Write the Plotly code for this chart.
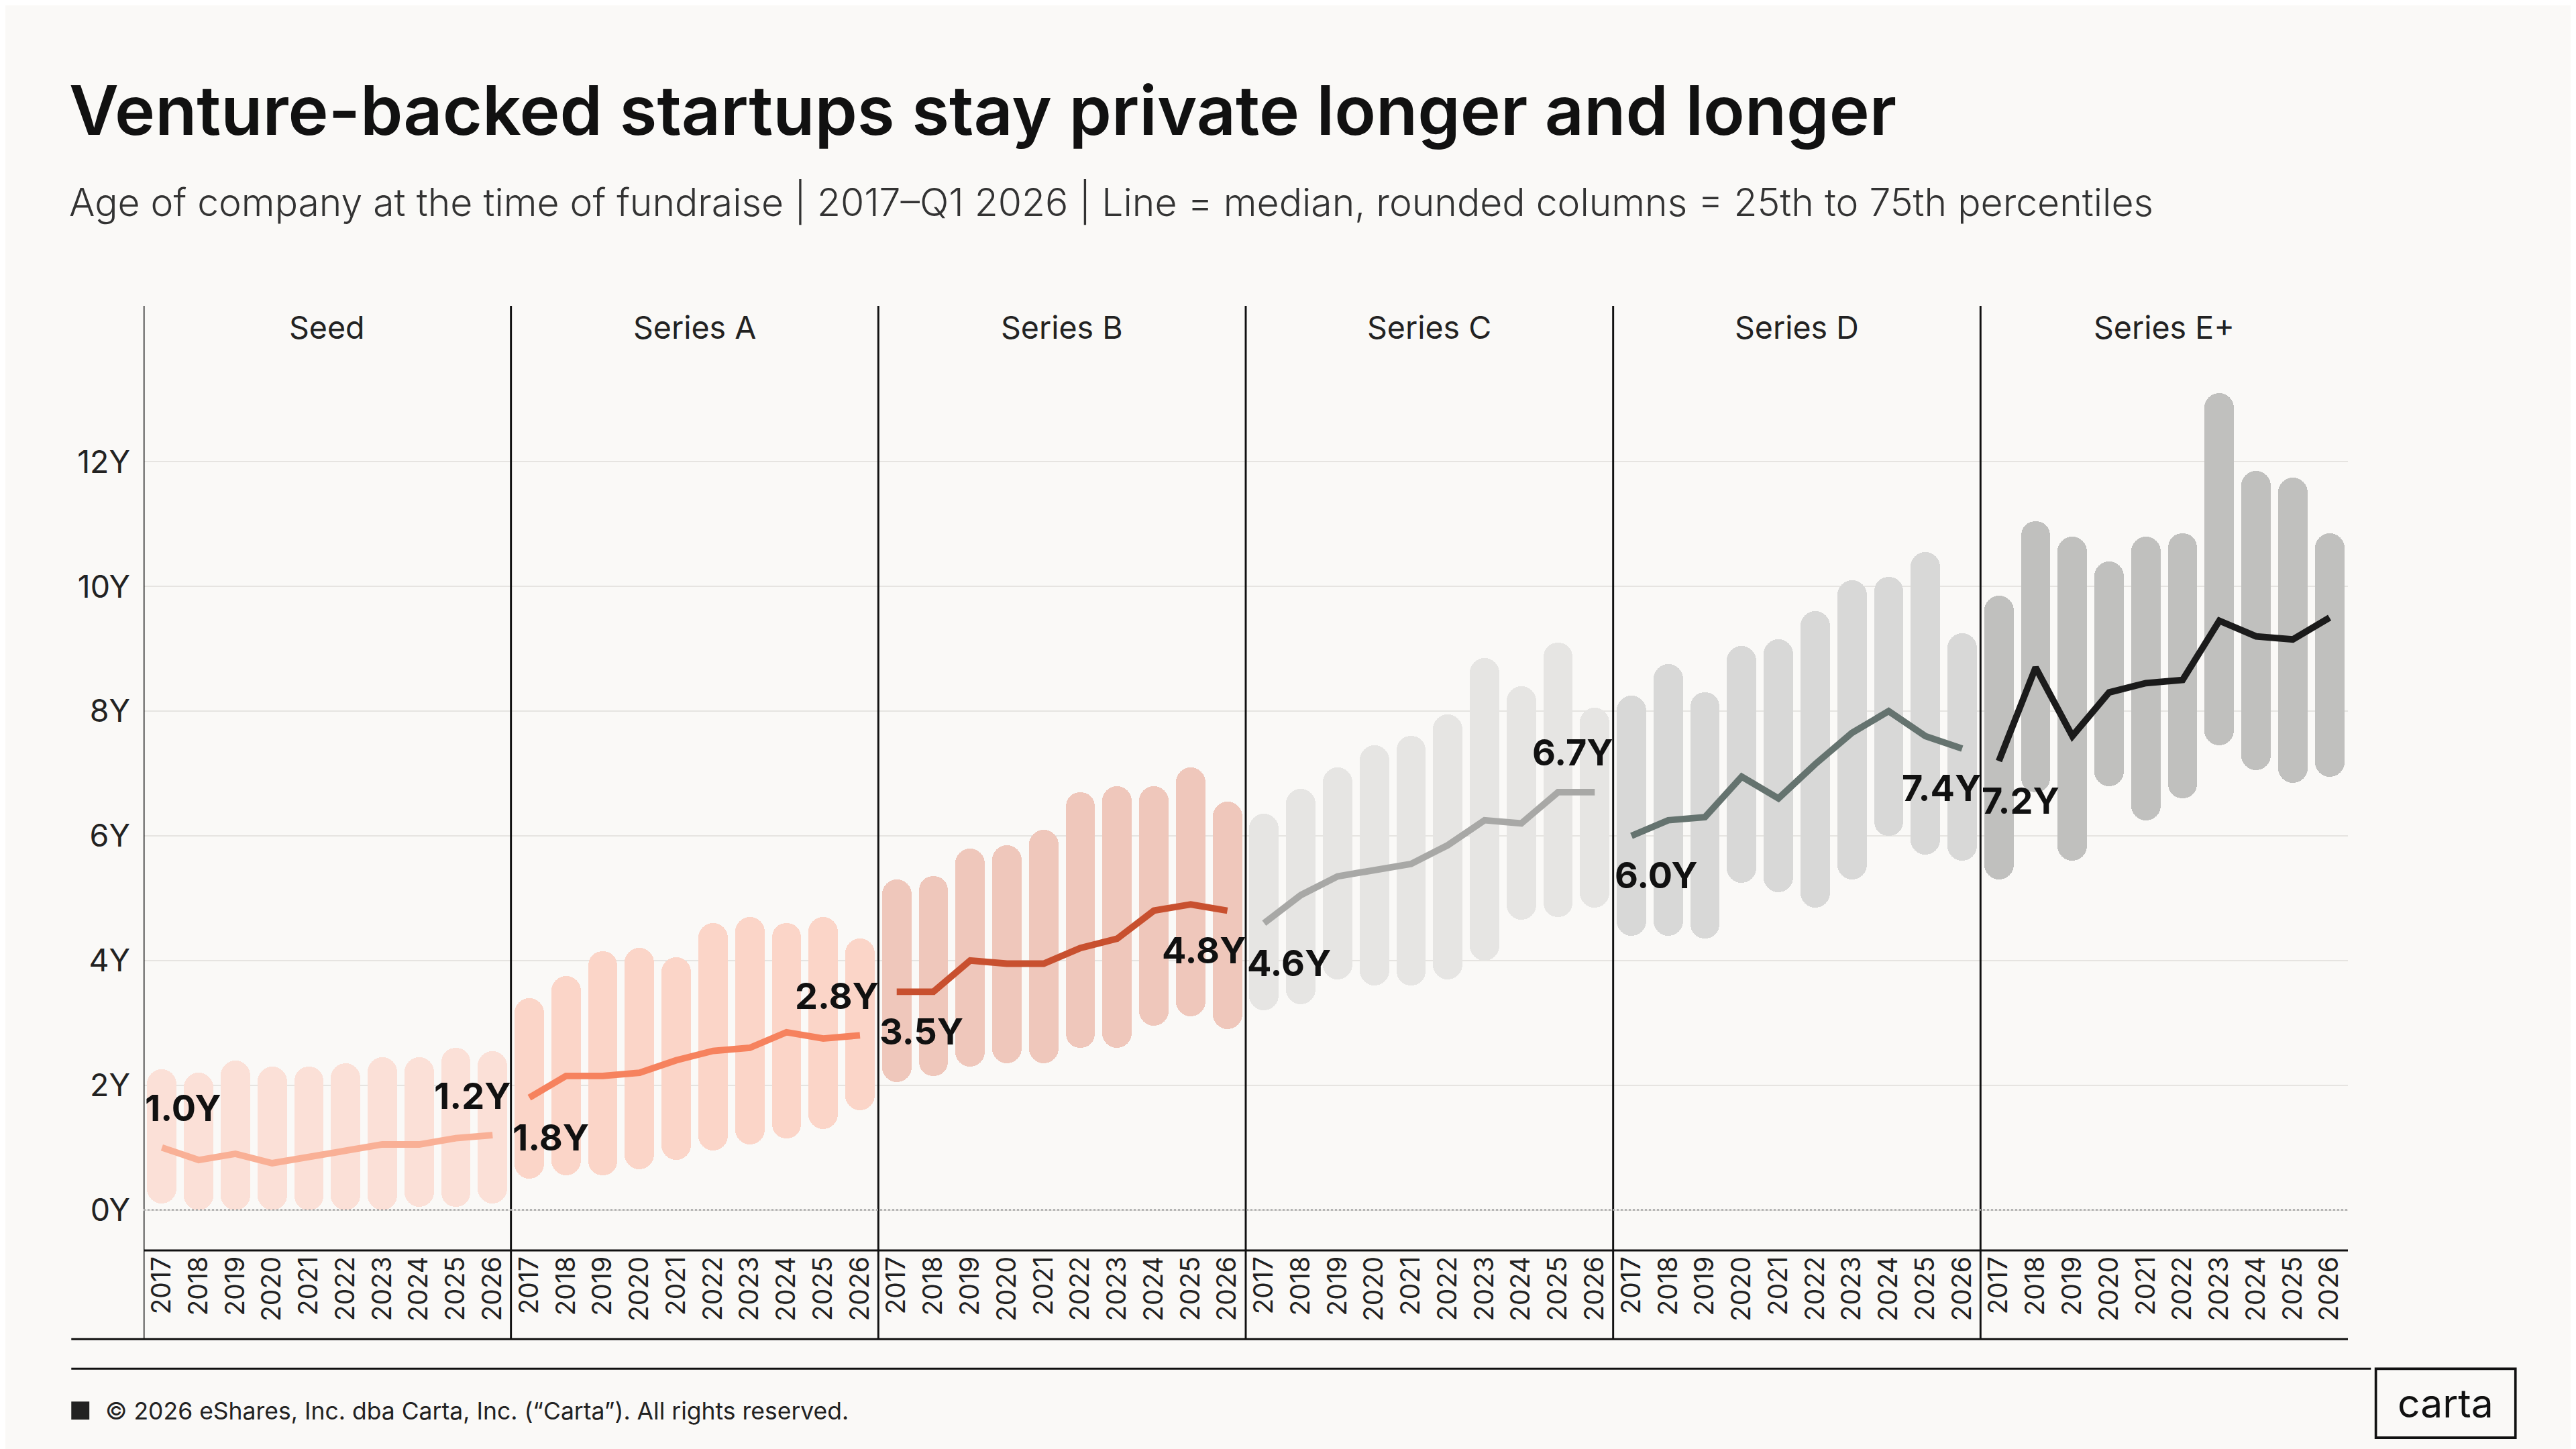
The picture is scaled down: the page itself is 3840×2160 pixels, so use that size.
import plotly.graph_objects as go

S = 3840 / 1568
stages = ["Seed", "Series A", "Series B", "Series C", "Series D", "Series E+"]
years = [str(y) for y in range(2017, 2027)]

seed_low = [0.1, 0, 0, 0, 0, 0, 0, 0.05, 0.05, 0.1]
seed_high = [2.25, 2.2, 2.4, 2.3, 2.3, 2.35, 2.45, 2.45, 2.6, 2.55]
seed_med = [1.0, 0.8, 0.9, 0.75, 0.85, 0.95, 1.05, 1.05, 1.15, 1.2]
a_low = [0.5, 0.55, 0.55, 0.65, 0.8, 0.95, 1.05, 1.15, 1.3, 1.6]
a_high = [3.4, 3.75, 4.15, 4.2, 4.05, 4.6, 4.7, 4.6, 4.7, 4.35]
a_med = [1.8, 2.15, 2.15, 2.2, 2.4, 2.55, 2.6, 2.85, 2.75, 2.8]
b_low = [2.05, 2.15, 2.3, 2.35, 2.35, 2.6, 2.6, 2.95, 3.1, 2.9]
b_high = [5.3, 5.35, 5.8, 5.85, 6.1, 6.7, 6.8, 6.8, 7.1, 6.55]
b_med = [3.5, 3.5, 4.0, 3.95, 3.95, 4.2, 4.35, 4.8, 4.9, 4.8]
c_low = [3.2, 3.3, 3.7, 3.6, 3.6, 3.7, 4.0, 4.65, 4.7, 4.85]
c_high = [6.35, 6.75, 7.1, 7.45, 7.6, 7.95, 8.85, 8.4, 9.1, 8.05]
c_med = [4.6, 5.05, 5.35, 5.45, 5.55, 5.85, 6.25, 6.2, 6.7, 6.7]
d_low = [4.4, 4.4, 4.35, 5.25, 5.1, 4.85, 5.3, 6.0, 5.7, 5.6]
d_high = [8.25, 8.75, 8.3, 9.05, 9.15, 9.6, 10.1, 10.15, 10.55, 9.25]
d_med = [6.0, 6.25, 6.3, 6.95, 6.6, 7.15, 7.65, 8.0, 7.6, 7.4]
e_low = [5.3, 6.7, 5.6, 6.8, 6.25, 6.6, 7.45, 7.05, 6.85, 6.95]
e_high = [9.85, 11.05, 10.8, 10.4, 10.8, 10.85, 13.1, 11.85, 11.75, 10.85]
e_med = [7.2, 8.7, 7.6, 8.3, 8.45, 8.5, 9.45, 9.2, 9.15, 9.5]

lows = [seed_low, a_low, b_low, c_low, d_low, e_low]
highs = [seed_high, a_high, b_high, c_high, d_high, e_high]
meds = [seed_med, a_med, b_med, c_med, d_med, e_med]
bar_colors = ["#fbe0d7", "#fbd5c8", "#efc7bb", "#e6e5e3", "#d8d8d7", "#c0c0be"]
line_colors = ["#f9b096", "#f6825e", "#c8502f", "#a8a8a6", "#65736f", "#1b1b1b"]
first_pos = ["above", "below", "below", "below", "below", "below"]
last_pos = ["above", "above", "below", "above", "below", "above"]

FONT = "Inter"
fig = go.Figure()
ann = []
for i in range(6):
    xs = [i * 10 + j for j in range(10)]
    mids = [(l + h) / 2 for l, h in zip(lows[i], highs[i])]
    halfs = [(h - l) / 2 for l, h in zip(lows[i], highs[i])]
    fig.add_trace(go.Bar(x=xs, base=mids, y=halfs,
                         marker=dict(color=bar_colors[i], cornerradius="50%", line_width=0),
                         width=0.8, hoverinfo="skip", showlegend=False))
    fig.add_trace(go.Bar(x=xs, base=mids, y=[-v for v in halfs],
                         marker=dict(color=bar_colors[i], cornerradius="50%", line_width=0),
                         width=0.8, hoverinfo="skip", showlegend=False))
    fig.add_trace(go.Bar(x=xs, base=[m - v / 2 for m, v in zip(mids, halfs)], y=halfs,
                         marker=dict(color=bar_colors[i], line_width=0),
                         width=0.8, hoverinfo="skip", showlegend=False))
    fig.add_trace(go.Scatter(x=xs, y=meds[i], mode="lines",
                             line=dict(color=line_colors[i], width=4 * S),
                             hoverinfo="skip", showlegend=False))
    for idx, pos, xa in [(0, first_pos[i], "left"), (9, last_pos[i], "right")]:
        ann.append(dict(x=xs[idx] + (-0.5 if idx == 0 else 0.55), y=meds[i][idx],
                        text="%.1fY" % meds[i][idx], showarrow=False,
                        xanchor=xa, yanchor="bottom" if pos == "above" else "top",
                        yshift=(10 if pos == "above" else -10) * S,
                        font=dict(family=FONT, size=22 * S, color="#111", weight=700)))

def px(xx):
    return (xx - 84) / 1342

def py(yy):
    return (758 - yy) / 575

for i in range(6):
    ann.append(dict(x=i * 10 + 4.5, y=py(196), yref="paper", yanchor="middle", text=stages[i],
                    showarrow=False, font=dict(family=FONT, size=19 * S, color="#222")))

shapes = []
for k in range(6):
    shapes.append(dict(type="line", xref="x", yref="paper", x0=k * 10 - 0.5, x1=k * 10 - 0.5,
                       y0=py(812), y1=py(183), line=dict(color="#111", width=1.2 * S)))
shapes.append(dict(type="line", xref="paper", yref="y", x0=0, x1=1, y0=0, y1=0,
                   line=dict(color="#aaa", width=1 * S, dash="dot")))
shapes.append(dict(type="line", xref="paper", yref="paper", x0=px(84), x1=px(1426), y0=py(758), y1=py(758),
                   line=dict(color="#111", width=1.2 * S)))
shapes.append(dict(type="line", xref="paper", yref="paper", x0=px(40), x1=px(1426), y0=py(812), y1=py(812),
                   line=dict(color="#111", width=1.2 * S)))
shapes.append(dict(type="line", xref="paper", yref="paper", x0=px(40), x1=px(1440), y0=py(830), y1=py(830),
                   line=dict(color="#111", width=1.2 * S)))
shapes.append(dict(type="rect", xref="paper", yref="paper", x0=px(1443), x1=px(1528), y0=py(872), y1=py(830),
                   line=dict(color="#111", width=1.5 * S), fillcolor="rgba(0,0,0,0)"))
shapes.append(dict(type="rect", xref="paper", yref="paper", x0=px(40), x1=px(51), y0=py(861), y1=py(850),
                   line=dict(width=0), fillcolor="#222"))

ann += [
    dict(x=px(38), y=py(64), xref="paper", yref="paper", text="Venture-backed startups stay private longer and longer",
         showarrow=False, xanchor="left", yanchor="middle", font=dict(family=FONT, size=41.5 * S, color="#111", weight=600)),
    dict(x=px(38), y=py(120), xref="paper", yref="paper",
         text="Age of company at the time of fundraise | 2017–Q1 2026 | Line = median, rounded columns = 25th to 75th percentiles",
         showarrow=False, xanchor="left", yanchor="middle", font=dict(family=FONT, size=23.3 * S, color="#333", weight=300)),
    dict(x=px(60), y=py(856), xref="paper", yref="paper",
         text="© 2026 eShares, Inc. dba Carta, Inc. (“Carta”). All rights reserved.",
         showarrow=False, xanchor="left", yanchor="middle", font=dict(family=FONT, size=14.5 * S, color="#222")),
    dict(x=px(1485.5), y=py(851), xref="paper", yref="paper", text="carta",
         showarrow=False, xanchor="center", yanchor="middle", font=dict(family=FONT, size=24 * S, color="#111")),
]

xticks = list(range(60))
fig.update_layout(
    width=3840, height=2160, paper_bgcolor="#faf9f7", plot_bgcolor="#faf9f7",
    margin=dict(l=84 * S, r=(1568 - 1426) * S, t=183 * S, b=(882 - 758) * S),
    barmode="overlay", bargap=0, shapes=shapes, annotations=ann,
    xaxis=dict(range=[-0.5, 59.5], tickvals=xticks, ticktext=years * 6, tickangle=-90,
               tickfont=dict(family=FONT, size=16 * S, color="#222"), showgrid=False,
               zeroline=False, ticks="", ticklen=0),
    yaxis=dict(range=[-0.65, 14.5], tickvals=[0, 2, 4, 6, 8, 10, 12],
               ticktext=["0Y", "2Y", "4Y", "6Y", "8Y", "10Y", "12Y"], showgrid=True,
               gridcolor="#e6e4e1", gridwidth=1 * S, zeroline=False,
               tickfont=dict(family=FONT, size=19 * S, color="#222"), ticklabelstandoff=int(8 * S)),
)
fig.write_html("out.html")
